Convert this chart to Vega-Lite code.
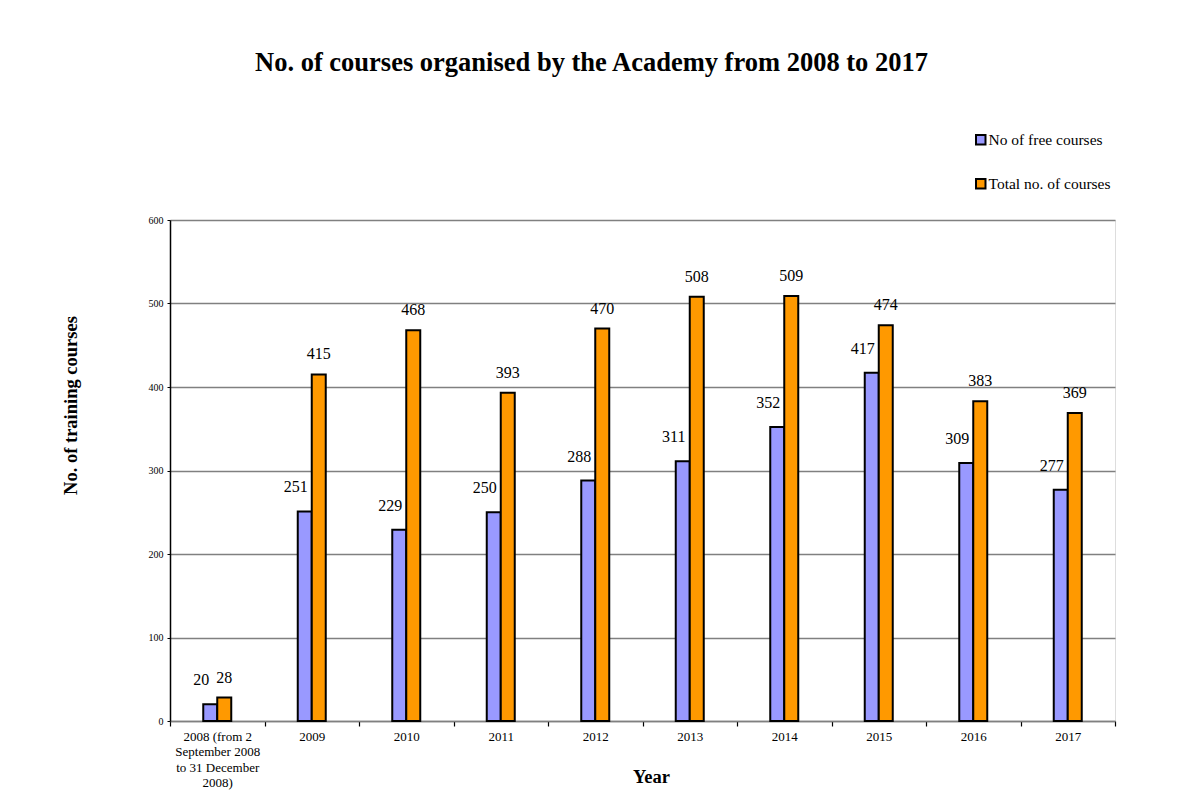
{
  "$schema": "https://vega.github.io/schema/vega-lite/v6.json",
  "width": 945,
  "height": 501,
  "autosize": {"type": "none"},
  "padding": {"left": 170, "top": 220, "right": 88, "bottom": 87},
  "background": "white",
  "title": {
    "text": "No. of courses organised by the Academy from 2008 to 2017",
    "font": "Liberation Serif",
    "fontSize": 26.5,
    "fontWeight": "bold",
    "color": "black",
    "anchor": "middle",
    "dx": -51,
    "offset": 56
  },
  "data": {
    "values": [
      {"year": "2008 (from 2 September 2008 to 31 December 2008)", "series": "No of free courses", "courses": 20},
      {"year": "2008 (from 2 September 2008 to 31 December 2008)", "series": "Total no. of courses", "courses": 28},
      {"year": "2009", "series": "No of free courses", "courses": 251},
      {"year": "2009", "series": "Total no. of courses", "courses": 415},
      {"year": "2010", "series": "No of free courses", "courses": 229},
      {"year": "2010", "series": "Total no. of courses", "courses": 468},
      {"year": "2011", "series": "No of free courses", "courses": 250},
      {"year": "2011", "series": "Total no. of courses", "courses": 393},
      {"year": "2012", "series": "No of free courses", "courses": 288},
      {"year": "2012", "series": "Total no. of courses", "courses": 470},
      {"year": "2013", "series": "No of free courses", "courses": 311},
      {"year": "2013", "series": "Total no. of courses", "courses": 508},
      {"year": "2014", "series": "No of free courses", "courses": 352},
      {"year": "2014", "series": "Total no. of courses", "courses": 509},
      {"year": "2015", "series": "No of free courses", "courses": 417},
      {"year": "2015", "series": "Total no. of courses", "courses": 474},
      {"year": "2016", "series": "No of free courses", "courses": 309},
      {"year": "2016", "series": "Total no. of courses", "courses": 383},
      {"year": "2017", "series": "No of free courses", "courses": 277},
      {"year": "2017", "series": "Total no. of courses", "courses": 369}
    ]
  },
  "encoding": {
    "x": {
      "field": "year",
      "type": "nominal",
      "sort": null,
      "scale": {"paddingInner": 0, "paddingOuter": 0},
      "axis": {
        "title": "Year",
        "titleFont": "Liberation Serif",
        "titleFontSize": 18.5,
        "titleFontWeight": "bold",
        "titleColor": "black",
        "titleX": 481,
        "titleY": 55,
        "titleBaseline": "middle",
        "titleAlign": "center",
        "labelAngle": 0,
        "tickBand": "extent",
        "labelFont": "Liberation Serif",
        "labelFontSize": 13,
        "labelLineHeight": 15.5,
        "labelColor": "black",
        "labelPadding": 4,
        "labelLimit": 200,
        "labelExpr": "datum.label == '2008 (from 2 September 2008 to 31 December 2008)' ? ['2008 (from 2', 'September 2008', 'to 31 December', '2008)'] : datum.label",
        "domainColor": "#808080",
        "domainWidth": 1.5,
        "tickColor": "black",
        "tickWidth": 1.2,
        "tickSize": 5,
        "grid": false
      }
    },
    "xOffset": {
      "field": "series",
      "type": "nominal",
      "scale": {
        "domain": ["_a", "_b", "No of free courses", "Total no. of courses", "_c", "_d"],
        "paddingInner": 0,
        "paddingOuter": 0.375
      }
    },
    "y": {
      "field": "courses",
      "type": "quantitative",
      "scale": {"domain": [0, 600]},
      "axis": {
        "title": "No. of training courses",
        "titleFont": "Liberation Serif",
        "titleFontSize": 18.5,
        "titleFontWeight": "bold",
        "titleColor": "black",
        "titleX": -100,
        "titleY": 185,
        "titleAngle": -90,
        "titleAlign": "center",
        "titleBaseline": "middle",
        "values": [0, 100, 200, 300, 400, 500, 600],
        "labelFont": "Liberation Serif",
        "labelFontSize": 10,
        "labelColor": "black",
        "labelPadding": 4,
        "tickColor": "black",
        "tickSize": 3,
        "domainColor": "black",
        "domainWidth": 1.5,
        "gridColor": "#808080",
        "gridWidth": 1.5
      }
    }
  },
  "layer": [
    {
      "mark": {"type": "bar", "stroke": "black", "strokeWidth": 2},
      "encoding": {
        "color": {
          "field": "series",
          "type": "nominal",
          "scale": {"domain": ["No of free courses", "Total no. of courses"], "range": ["#9999FF", "#FF9900"]},
          "legend": {
            "orient": "none",
            "legendX": 803,
            "legendY": -88,
            "title": null,
            "symbolType": "square",
            "symbolSize": 90,
            "symbolStrokeColor": "black",
            "symbolStrokeWidth": 2,
            "labelFont": "Liberation Serif",
            "labelFontSize": 15.5,
            "labelColor": "black",
            "labelOffset": 0,
            "rowPadding": 26,
            "padding": 0
          }
        }
      }
    },
    {
      "transform": [{"filter": "datum.series == 'No of free courses'"}],
      "mark": {"type": "text", "font": "Liberation Serif", "fontSize": 16, "color": "black", "dx": -9, "dy": -19, "baseline": "alphabetic"},
      "encoding": {"text": {"field": "courses", "type": "quantitative"}}
    },
    {
      "transform": [{"filter": "datum.series == 'Total no. of courses'"}],
      "mark": {"type": "text", "font": "Liberation Serif", "fontSize": 16, "color": "black", "dx": 0, "dy": -15, "baseline": "alphabetic"},
      "encoding": {"text": {"field": "courses", "type": "quantitative"}}
    }
  ]
}
